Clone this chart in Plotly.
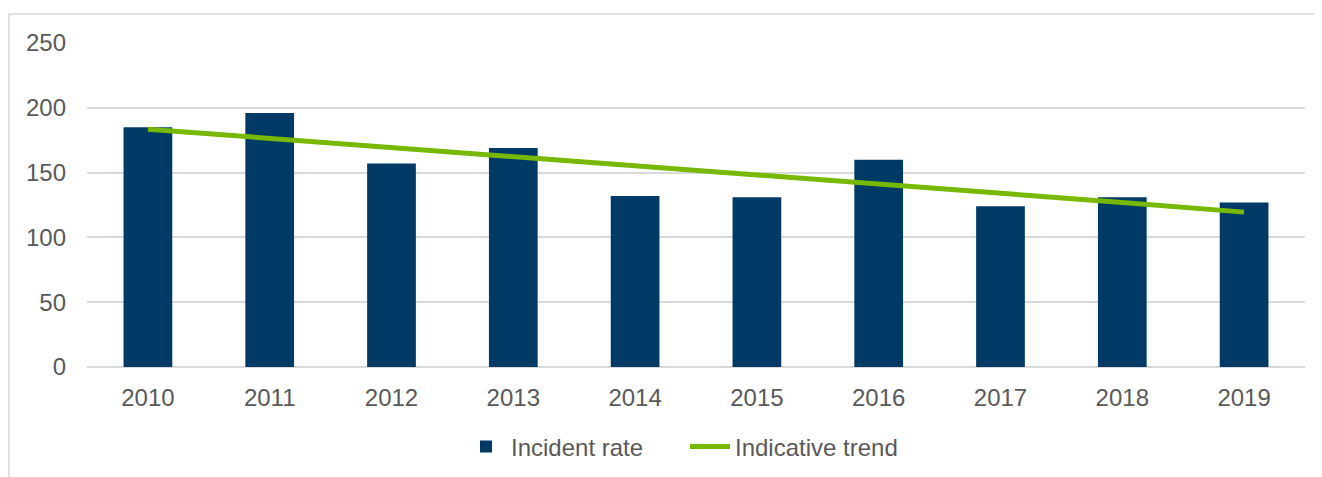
import plotly.graph_objects as go

years = ["2010", "2011", "2012", "2013", "2014", "2015", "2016", "2017", "2018", "2019"]
incident_rate = [185, 196, 157, 169, 132, 131, 160, 124, 131, 127]
indicative_trend = [183.5, 176.5, 169.5, 162.5, 155.5, 148.5, 141.5, 134, 127, 119.5]
y_ticks = [0, 50, 100, 150, 200, 250]

# page offset (body margin) of 8px
OFF = 8
W, H = 1322, 477
ML, MT = 87 - OFF, 43 - OFF
MR = W - (1305 - OFF)
MB = H - (367 - OFF)
pw, ph = W - ML - MR, H - MT - MB
plot_bottom = 367  # in screenshot coords

fig = go.Figure()
fig.add_trace(go.Bar(x=years, y=incident_rate, name="Incident rate",
                     marker=dict(color="#003A66", line=dict(width=0))))
fig.add_trace(go.Scatter(x=years, y=indicative_trend, name="Indicative trend", mode="lines",
                         line=dict(color="#76B900", width=5)))

font_c = "#595959"
FS = 24
fig.update_layout(
    width=W, height=H,
    margin=dict(l=ML, r=MR, t=MT, b=MB),
    paper_bgcolor="white", plot_bgcolor="white",
    font=dict(family="Liberation Sans, Arial, sans-serif", size=FS, color=font_c),
    bargap=0.6,
    showlegend=True,
    legend=dict(orientation="h", x=(685 - 87) / pw, xanchor="center",
                y=-(447 - plot_bottom) / ph, yanchor="middle",
                font=dict(size=FS, color=font_c), itemwidth=40, traceorder="normal",
                entrywidth=169, entrywidthmode="pixels"),
    xaxis=dict(showgrid=False, showline=False, zeroline=False, ticks="",
               ticklabelstandoff=14, tickfont=dict(size=FS, color=font_c)),
    yaxis=dict(range=[0, 250], tickvals=y_ticks, showgrid=True, gridcolor="#D9D9D9", gridwidth=1.5,
               zeroline=True, zerolinecolor="#D9D9D9", zerolinewidth=1.5, showline=False,
               ticks="", ticklabelstandoff=20, tickfont=dict(size=FS, color=font_c)),
    shapes=[dict(type="rect", xref="paper", yref="paper",
                 x0=(9 - 87) / pw, x1=(1340 - 87) / pw,
                 y0=-(490 - plot_bottom) / ph, y1=1 + (43 - 14) / ph,
                 line=dict(color="#D9D9D9", width=1.5), layer="below")],
)

fig.write_html("out.html")
